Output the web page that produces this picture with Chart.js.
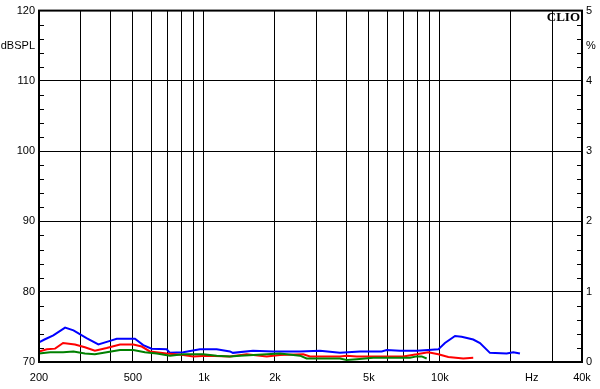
<!DOCTYPE html>
<html>
<head>
<meta charset="utf-8">
<script src="https://cdn.jsdelivr.net/npm/chart.js@4/dist/chart.umd.min.js"></script>
<style>
  html, body { margin: 0; padding: 0; background: #fff; }
  #wrap { width: 600px; height: 389px; }
</style>
</head>
<body>
<div id="wrap"><canvas id="c"></canvas></div>
<script>
// distortion curves (Hz, %)
const freqBlue = [200, 211, 230, 258, 280, 318, 357, 400, 427, 510, 553, 600, 695, 718, 817, 962, 1132, 1289, 1327, 1614, 1963, 2553, 3103, 3770, 4583, 5669, 5949, 6776, 7469, 7970, 8925, 9846, 10500, 11590, 12360, 13840, 14780, 16290, 19170, 20470, 21830];
const pctBlue  = [0.28, 0.32, 0.38, 0.49, 0.45, 0.34, 0.25, 0.30, 0.33, 0.33, 0.24, 0.19, 0.18, 0.13, 0.14, 0.18, 0.18, 0.15, 0.13, 0.16, 0.15, 0.15, 0.16, 0.13, 0.15, 0.15, 0.17, 0.16, 0.16, 0.16, 0.17, 0.18, 0.27, 0.37, 0.36, 0.32, 0.27, 0.13, 0.12, 0.14, 0.12];

const freqRed = [200, 216, 234, 253, 284, 313, 345, 387, 441, 502, 545, 590, 695, 817, 902, 1027, 1289, 1517, 1845, 2099, 2636, 2813, 3770, 4025, 4437, 5222, 6997, 7970, 8925, 9846, 10850, 12560, 13840];
const pctRed  = [0.15, 0.18, 0.19, 0.27, 0.25, 0.21, 0.16, 0.20, 0.25, 0.25, 0.22, 0.15, 0.12, 0.10, 0.08, 0.09, 0.08, 0.11, 0.08, 0.10, 0.11, 0.08, 0.08, 0.09, 0.08, 0.08, 0.08, 0.11, 0.14, 0.11, 0.07, 0.05, 0.06];

const freqGreen = [200, 223, 238, 253, 280, 313, 345, 387, 441, 502, 562, 631, 718, 817, 993, 1132, 1289, 1422, 1845, 2099, 2553, 2723, 3770, 4025, 4437, 5222, 6776, 7469, 7970, 8374, 8788];
const pctGreen  = [0.12, 0.14, 0.14, 0.14, 0.15, 0.12, 0.11, 0.14, 0.17, 0.17, 0.14, 0.12, 0.09, 0.11, 0.11, 0.09, 0.08, 0.09, 0.11, 0.12, 0.09, 0.05, 0.05, 0.03, 0.04, 0.06, 0.06, 0.06, 0.08, 0.08, 0.05];

// axes
const xGrid = [200, 300, 400, 500, 600, 700, 800, 900, 1000, 2000, 3000, 4000, 5000, 6000, 7000, 8000, 9000, 10000, 20000, 30000, 40000];
const xLabels = {200: '200', 500: '500', 1000: '1k', 2000: '2k', 5000: '5k', 10000: '10k', 24500: 'Hz', 40000: '40k'};
const dbTicks = [70, 80, 90, 100, 110, 115, 120];
const dbLabels = {115: 'dBSPL'};
const pctTicks = [0, 1, 2, 3, 4, 4.5, 5];
const pctLabels = {4.5: '%'};
const dbMinor = [72, 74, 76, 78, 82, 84, 86, 88, 92, 94, 96, 98, 102, 104, 106, 108, 112, 114, 116, 118];
const pctMinor = [0.2, 0.4, 0.6, 0.8, 1.2, 1.4, 1.6, 1.8, 2.2, 2.4, 2.6, 2.8, 3.2, 3.4, 3.6, 3.8, 4.2, 4.4, 4.6, 4.8];

const pts = (xs, ys) => xs.map((x, i) => ({x: x, y: ys[i]}));

const framePlugin = {
    id: 'frame',
    afterDraw(chart) {
        const ctx = chart.ctx;
        const a = chart.chartArea;
        const yl = chart.scales.y, yr = chart.scales.y1;
        ctx.save();
        ctx.strokeStyle = '#000';
        ctx.lineWidth = 1;
        ctx.beginPath();
        dbMinor.forEach(v => {
            const p = Math.round(yl.getPixelForValue(v)) + 0.5;
            ctx.moveTo(a.left, p); ctx.lineTo(a.left + 5, p);
        });
        pctMinor.forEach(v => {
            const p = Math.round(yr.getPixelForValue(v)) + 0.5;
            ctx.moveTo(a.right - 5, p); ctx.lineTo(a.right, p);
        });
        ctx.stroke();
        ctx.lineWidth = 2;
        ctx.strokeRect(a.left, a.top, a.right - a.left, a.bottom - a.top);
        ctx.font = 'bold 13px "Liberation Serif", serif';
        ctx.fillStyle = '#000';
        ctx.textAlign = 'right';
        ctx.textBaseline = 'alphabetic';
        ctx.fillText('CLIO', a.right - 2, a.top + 10);
        ctx.restore();
    }
};

const lineDs = (label, color, xs, ys) => ({
    label: label,
    data: pts(xs, ys),
    borderColor: color,
    borderWidth: 2,
    pointRadius: 0,
    tension: 0,
    fill: false,
    yAxisID: 'y1'
});

const tickFont = {family: '"Liberation Sans", Arial, sans-serif', size: 11};

new Chart(document.getElementById('c'), {
    type: 'line',
    data: {
        datasets: [
            lineDs('green', '#008000', freqGreen, pctGreen),
            lineDs('red', '#ff0000', freqRed, pctRed),
            lineDs('blue', '#0000ff', freqBlue, pctBlue)
        ]
    },
    options: {
        responsive: true,
        maintainAspectRatio: false,
        animation: false,
        events: [],
        layout: {padding: {top: 10, right: 0, left: 0, bottom: 0}},
        plugins: {legend: {display: false}, tooltip: {enabled: false}},
        scales: {
            x: {
                type: 'logarithmic',
                min: 200,
                max: 40000,
                afterBuildTicks: s => { s.ticks = xGrid.concat([24500]).map(v => ({value: v})); },
                afterFit: s => { s.height = 27; },
                grid: {
                    color: c => (c.tick && c.tick.value === 24500) ? 'rgba(0,0,0,0)' : '#000',
                    lineWidth: 1,
                    drawTicks: false
                },
                border: {display: false},
                ticks: {
                    autoSkip: false,
                    maxRotation: 0,
                    padding: 9,
                    color: '#000',
                    font: tickFont,
                    callback: v => xLabels[v] || ''
                }
            },
            y: {
                position: 'left',
                min: 70,
                max: 120,
                afterBuildTicks: s => { s.ticks = dbTicks.map(v => ({value: v})); },
                afterFit: s => { s.width = 39; },
                grid: {
                    color: c => (c.tick && c.tick.value === 115) ? 'rgba(0,0,0,0)' : '#000',
                    lineWidth: 1,
                    drawTicks: false
                },
                border: {display: false},
                ticks: {
                    padding: 4,
                    color: '#000',
                    font: tickFont,
                    callback: v => dbLabels[v] || String(v)
                }
            },
            y1: {
                position: 'right',
                min: 0,
                max: 5,
                afterBuildTicks: s => { s.ticks = pctTicks.map(v => ({value: v})); },
                afterFit: s => { s.width = 18; },
                grid: {drawOnChartArea: false, drawTicks: false},
                border: {display: false},
                ticks: {
                    padding: 4,
                    color: '#000',
                    font: tickFont,
                    callback: v => pctLabels[v] || String(v)
                }
            }
        }
    },
    plugins: [framePlugin]
});
</script>
</body>
</html>
